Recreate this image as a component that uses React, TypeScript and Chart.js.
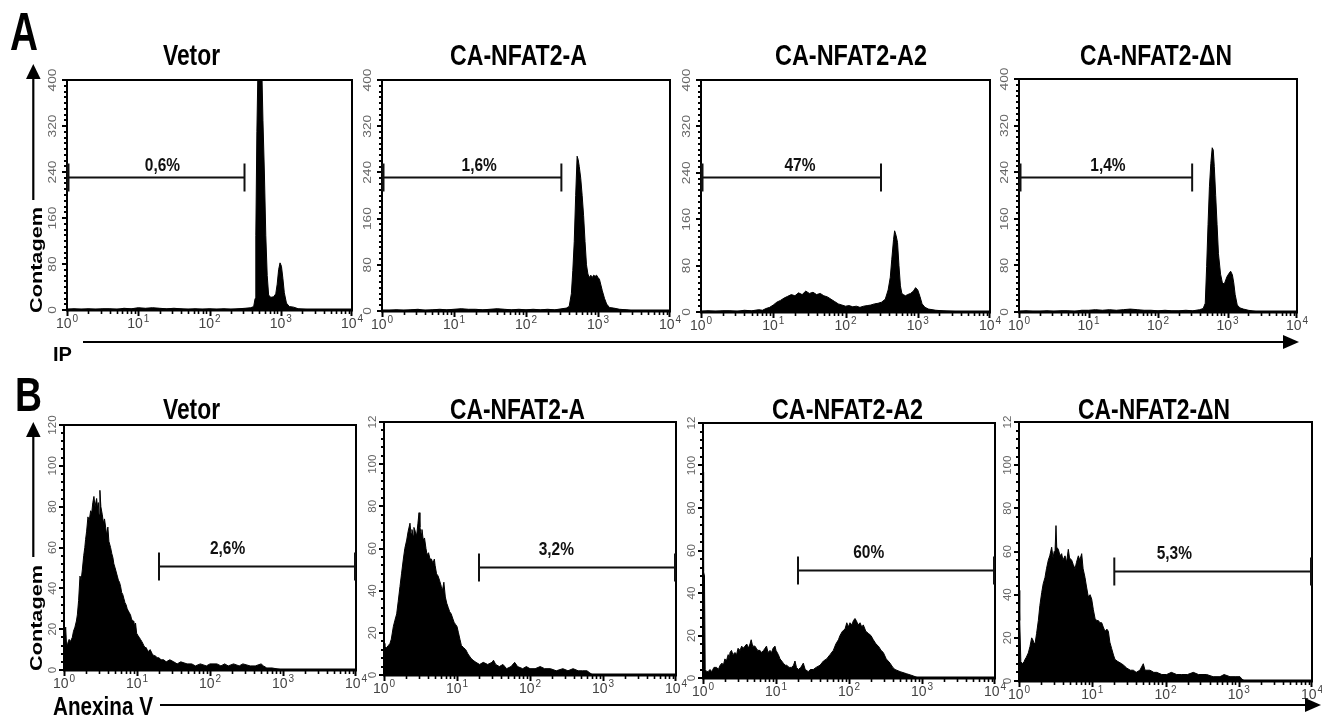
import React, { useEffect, useRef } from 'react';
import { Chart, registerables } from 'chart.js';

Chart.register(...registerables);

// ---------------- DATA ----------------
// Histogram points: [log10(fluorescence intensity), cell count]
const IP_VETOR: [number, number][] = [
  [0, 1], [0.1, 2], [0.2, 1], [0.3, 2], [0.4, 1], [0.5, 2], [0.6, 2], [0.7, 1], [0.8, 3], [0.9, 2],
  [1.0, 4], [1.1, 3], [1.2, 4], [1.3, 3], [1.4, 2], [1.5, 3], [1.6, 2], [1.7, 1], [1.8, 2], [1.9, 1],
  [2.0, 2], [2.1, 1], [2.2, 2], [2.3, 1], [2.4, 2], [2.5, 3], [2.58, 4], [2.62, 6], [2.64, 20],
  [2.65, 130], [2.665, 310], [2.68, 420], [2.7, 440], [2.72, 430], [2.735, 415], [2.75, 330],
  [2.77, 240], [2.79, 130], [2.81, 60], [2.83, 26], [2.86, 22], [2.9, 23], [2.93, 28], [2.95, 45],
  [2.97, 70], [2.99, 82], [3.01, 76], [3.03, 55], [3.05, 30], [3.08, 12], [3.12, 6], [3.18, 5],
  [3.25, 2], [3.35, 1], [3.5, 0], [4, 0],
];
const IP_A: [number, number][] = [
  [0, 1], [0.1, 1], [0.2, 2], [0.3, 1], [0.4, 2], [0.5, 3], [0.6, 1], [0.7, 2], [0.8, 3], [0.9, 2],
  [1.0, 3], [1.1, 4], [1.2, 3], [1.3, 3], [1.4, 2], [1.5, 3], [1.6, 4], [1.7, 3], [1.8, 2], [1.9, 3],
  [2.0, 2], [2.1, 3], [2.2, 2], [2.3, 3], [2.4, 2], [2.5, 4], [2.56, 5], [2.6, 8], [2.63, 30],
  [2.65, 70], [2.67, 120], [2.69, 200], [2.71, 268], [2.725, 262], [2.74, 250], [2.76, 230],
  [2.78, 200], [2.8, 165], [2.82, 120], [2.84, 80], [2.86, 64], [2.88, 58], [2.9, 62], [2.92, 58],
  [2.94, 62], [2.96, 60], [2.98, 62], [3.0, 58], [3.02, 55], [3.04, 45], [3.06, 35], [3.09, 22],
  [3.12, 12], [3.16, 6], [3.22, 5], [3.3, 3], [3.4, 2], [3.5, 0], [4, 0],
];
const IP_A2: [number, number][] = [
  [0, 1], [0.1, 2], [0.2, 1], [0.3, 2], [0.4, 2], [0.5, 1], [0.6, 3], [0.7, 2], [0.8, 4], [0.85, 3],
  [0.9, 6], [0.95, 8], [1.0, 12], [1.05, 17], [1.1, 20], [1.15, 24], [1.2, 27], [1.25, 30], [1.3, 28],
  [1.35, 33], [1.4, 30], [1.45, 36], [1.5, 32], [1.55, 34], [1.6, 30], [1.65, 32], [1.7, 28],
  [1.75, 26], [1.8, 22], [1.85, 18], [1.9, 14], [1.95, 12], [2.0, 10], [2.05, 11], [2.1, 9],
  [2.15, 10], [2.2, 8], [2.25, 10], [2.3, 11], [2.35, 12], [2.4, 14], [2.45, 15], [2.5, 17],
  [2.55, 22], [2.59, 38], [2.62, 60], [2.64, 90], [2.665, 125], [2.68, 140], [2.7, 132], [2.72, 120],
  [2.74, 80], [2.76, 45], [2.78, 32], [2.8, 30], [2.83, 28], [2.86, 30], [2.9, 32], [2.94, 36],
  [2.97, 42], [3.0, 38], [3.03, 27], [3.06, 14], [3.1, 8], [3.15, 5], [3.25, 3], [3.35, 2],
  [3.5, 1], [3.6, 0], [4, 0],
];
const IP_DN: [number, number][] = [
  [0, 1], [0.1, 2], [0.2, 1], [0.3, 1], [0.4, 2], [0.5, 1], [0.6, 2], [0.7, 2], [0.8, 1], [0.9, 3],
  [1.0, 3], [1.1, 4], [1.2, 3], [1.3, 4], [1.4, 3], [1.5, 4], [1.6, 5], [1.7, 4], [1.8, 3], [1.9, 3],
  [2.0, 2], [2.1, 3], [2.2, 2], [2.3, 2], [2.4, 3], [2.5, 2], [2.6, 4], [2.65, 6], [2.68, 15],
  [2.7, 78], [2.72, 150], [2.74, 215], [2.76, 255], [2.78, 282], [2.795, 278], [2.81, 250],
  [2.83, 200], [2.85, 150], [2.87, 100], [2.9, 65], [2.93, 48], [2.96, 50], [2.99, 60], [3.02, 66],
  [3.045, 70], [3.07, 64], [3.09, 50], [3.11, 30], [3.14, 12], [3.18, 7], [3.23, 5], [3.3, 3],
  [3.4, 1], [3.5, 0], [4, 0],
];

const ANX_VETOR: [number, number][] = [
  [0, 13], [0.01, 16], [0.023, 21], [0.035, 12], [0.05, 13], [0.07, 15], [0.09, 14], [0.114, 16],
  [0.13, 19], [0.15, 21], [0.17, 24], [0.183, 27], [0.2, 34], [0.219, 46], [0.235, 44], [0.251, 49],
  [0.27, 56], [0.285, 60], [0.296, 64], [0.31, 68], [0.328, 75], [0.345, 73], [0.365, 78], [0.38, 77],
  [0.395, 82], [0.41, 85], [0.425, 80], [0.447, 84], [0.46, 79], [0.47, 82], [0.48, 76], [0.492, 88],
  [0.505, 80], [0.525, 76], [0.54, 72], [0.555, 74], [0.57, 70], [0.585, 66], [0.601, 70], [0.615, 63],
  [0.638, 60], [0.655, 57], [0.67, 55], [0.683, 52], [0.7, 50], [0.715, 48], [0.73, 46], [0.745, 44],
  [0.76, 43], [0.775, 41], [0.79, 38], [0.805, 37], [0.82, 35], [0.835, 33], [0.85, 32], [0.866, 30],
  [0.88, 29], [0.895, 28], [0.911, 27], [0.925, 25], [0.94, 24], [0.956, 24], [0.97, 21], [0.98, 23],
  [0.995, 18], [1.011, 17], [1.03, 16], [1.048, 15], [1.065, 14], [1.08, 13], [1.093, 12], [1.11, 11],
  [1.125, 11], [1.139, 10], [1.16, 9], [1.18, 10], [1.208, 8], [1.23, 7], [1.25, 7], [1.276, 6],
  [1.3, 6], [1.33, 5], [1.366, 5], [1.4, 4], [1.45, 5], [1.503, 4], [1.55, 3], [1.6, 4], [1.686, 3],
  [1.75, 3], [1.8, 2], [1.867, 3], [1.95, 2], [2.0, 3], [2.095, 3], [2.15, 2], [2.2, 3], [2.25, 2],
  [2.322, 3], [2.4, 2], [2.45, 3], [2.55, 2], [2.62, 2], [2.7, 3], [2.732, 2], [2.778, 1], [2.85, 1],
  [3.0, 0], [4, 0],
];
const ANX_A: [number, number][] = [
  [0, 15], [0.012, 13], [0.036, 13], [0.06, 14], [0.082, 15], [0.1, 17], [0.128, 23], [0.15, 26],
  [0.174, 29], [0.195, 35], [0.219, 42], [0.24, 48], [0.265, 55], [0.285, 60], [0.311, 64], [0.33, 68],
  [0.356, 72], [0.37, 67], [0.383, 69], [0.4, 66], [0.41, 70], [0.43, 68], [0.447, 66], [0.465, 72],
  [0.48, 77], [0.492, 70], [0.51, 67], [0.52, 69], [0.538, 64], [0.555, 65], [0.575, 60], [0.59, 57],
  [0.61, 58], [0.63, 55], [0.65, 55], [0.67, 53], [0.69, 55], [0.7, 52], [0.72, 48], [0.74, 47],
  [0.76, 45], [0.785, 42], [0.8, 40], [0.82, 44], [0.84, 37], [0.86, 34], [0.88, 32], [0.9, 30],
  [0.92, 29], [0.94, 27], [0.96, 25], [0.98, 24], [1.0, 23], [1.02, 20], [1.04, 17], [1.06, 14],
  [1.09, 13], [1.12, 12], [1.15, 10], [1.19, 8], [1.22, 7], [1.26, 6], [1.31, 5], [1.36, 6], [1.42, 5],
  [1.48, 6], [1.5, 7], [1.53, 5], [1.58, 4], [1.63, 5], [1.68, 3], [1.74, 4], [1.79, 6], [1.83, 4],
  [1.9, 3], [1.95, 4], [2.0, 3], [2.07, 3], [2.14, 4], [2.2, 3], [2.28, 3], [2.36, 2], [2.45, 3],
  [2.52, 2], [2.59, 3], [2.66, 2], [2.72, 2], [2.78, 2], [2.82, 1], [2.86, 0], [4, 0],
];
const ANX_A2: [number, number][] = [
  [0, 97], [0.008, 50], [0.02, 48], [0.03, 4], [0.05, 3], [0.07, 3], [0.096, 4], [0.12, 3], [0.15, 5],
  [0.187, 5], [0.21, 4], [0.235, 6], [0.26, 7], [0.279, 6], [0.3, 9], [0.32, 8], [0.345, 11], [0.36, 9],
  [0.37, 12], [0.39, 13], [0.41, 11], [0.438, 12], [0.46, 11], [0.48, 14], [0.507, 13], [0.53, 15],
  [0.55, 14], [0.575, 15], [0.6, 16], [0.62, 14], [0.644, 16], [0.66, 18], [0.68, 15], [0.712, 15],
  [0.73, 14], [0.75, 13], [0.781, 13], [0.8, 12], [0.83, 13], [0.849, 14], [0.87, 15], [0.89, 12],
  [0.918, 13], [0.94, 12], [0.96, 14], [0.986, 15], [1.0, 13], [1.032, 11], [1.055, 9], [1.078, 8],
  [1.1, 7], [1.125, 6], [1.146, 6], [1.18, 5], [1.215, 5], [1.24, 6], [1.26, 8], [1.28, 5], [1.306, 4],
  [1.34, 5], [1.374, 7], [1.4, 4], [1.443, 3], [1.47, 4], [1.511, 4], [1.55, 5], [1.603, 6], [1.65, 8],
  [1.694, 9], [1.74, 11], [1.785, 13], [1.82, 16], [1.855, 18], [1.877, 20], [1.91, 22], [1.945, 23],
  [1.97, 26], [1.99, 24], [2.014, 26], [2.04, 25], [2.06, 27], [2.082, 28], [2.1, 27], [2.125, 25],
  [2.151, 26], [2.175, 24], [2.196, 25], [2.23, 22], [2.265, 21], [2.3, 20], [2.333, 18], [2.37, 16],
  [2.402, 15], [2.44, 13], [2.47, 12], [2.51, 9], [2.562, 7], [2.6, 5], [2.63, 4], [2.7, 3], [2.79, 2],
  [2.88, 1], [2.95, 0], [4, 0],
];
const ANX_DN: [number, number][] = [
  [0, 42], [0.01, 28], [0.025, 9], [0.05, 8], [0.07, 9], [0.082, 10], [0.1, 11], [0.127, 13],
  [0.15, 16], [0.173, 20], [0.19, 19], [0.2, 18], [0.218, 17], [0.24, 22], [0.264, 28], [0.285, 35],
  [0.31, 41], [0.33, 45], [0.355, 48], [0.375, 52], [0.4, 56], [0.42, 58], [0.446, 62], [0.465, 57],
  [0.48, 60], [0.491, 59], [0.505, 72], [0.515, 62], [0.537, 61], [0.56, 58], [0.582, 59], [0.6, 56],
  [0.628, 58], [0.65, 55], [0.673, 61], [0.69, 57], [0.719, 56], [0.74, 54], [0.765, 52], [0.785, 55],
  [0.81, 58], [0.83, 56], [0.856, 59], [0.875, 52], [0.901, 48], [0.92, 44], [0.946, 39], [0.97, 40],
  [0.992, 38], [1.015, 33], [1.038, 29], [1.06, 28], [1.083, 28], [1.105, 27], [1.129, 27], [1.15, 25],
  [1.174, 23], [1.2, 24], [1.22, 23], [1.24, 18], [1.265, 15], [1.29, 12], [1.31, 10], [1.35, 9],
  [1.402, 8], [1.44, 7], [1.47, 6], [1.52, 5], [1.561, 5], [1.6, 4], [1.65, 5], [1.697, 8], [1.72, 5],
  [1.788, 5], [1.84, 4], [1.88, 4], [1.95, 3], [2.016, 3], [2.08, 4], [2.153, 3], [2.22, 3], [2.3, 3],
  [2.38, 4], [2.45, 3], [2.562, 3], [2.65, 2], [2.744, 2], [2.8, 3], [2.88, 2], [2.95, 2], [3.017, 2],
  [3.04, 1], [3.08, 0], [4, 0],
];

const TITLES = ['Vetor', 'CA-NFAT2-A', 'CA-NFAT2-A2', 'CA-NFAT2-\u0394N'];
const IP_SERIES = [IP_VETOR, IP_A, IP_A2, IP_DN];
const ANX_SERIES = [ANX_VETOR, ANX_A, ANX_A2, ANX_DN];

const X_DECADES = [0, 1, 2, 3, 4];
const X_EXPONENT_LABELS = ['0', '1', '2', '3', '4'];

const IP_Y_TICKS = [0, 80, 160, 240, 320, 400];
const IP_Y_LABELS = ['0', '80', '160', '240', '320', '400'];
const ANX_Y_TICKS = [0, 20, 40, 60, 80, 100, 120];
const ANX_Y_LABELS_FULL = ['0', '20', '40', '60', '80', '100', '120'];
const ANX_Y_LABELS_CUT = ['0', '20', '40', '60', '80', '100', '12'];

const IP_GATE_PCT = ['0,6%', '1,6%', '47%', '1,4%'];
const ANX_GATE_PCT = ['2,6%', '3,2%', '60%', '5,3%'];
const IP_GATE_RANGE = [1, 310];
const IP_GATE_LEVEL = 232;
const ANX_GATE_RANGE = [20, 10000];
const ANX_GATE_LEVEL = 51;

const ROW_A_AXIS = 'Contagem';
const ROW_A_XLABEL = 'IP';
const ROW_B_XLABEL = 'Anexina V';

// ---------------- LAYOUT ----------------
type Box = { L: number; T: number; R: number; B: number };
const PAD = { left: 30, top: 16, right: 14, bottom: 24 };

const ROW_A_BOXES: Box[] = [
  { L: 67, T: 80, R: 352, B: 310 },
  { L: 382, T: 80, R: 670, B: 311 },
  { L: 701, T: 80, R: 990, B: 312 },
  { L: 1019, T: 79, R: 1297, B: 312 },
];
const ROW_B_BOXES: Box[] = [
  { L: 64, T: 425, R: 356, B: 670 },
  { L: 384, T: 422, R: 676, B: 675 },
  { L: 703, T: 423, R: 995, B: 678 },
  { L: 1019, T: 422, R: 1312, B: 681 },
];
// label anchor (decade) for gate percentages
const IP_LABEL_DEC = [1.34, 1.35, 1.37, 1.28];
const ANX_LABEL_DEC = [2.24, 2.36, 2.27, 2.12];

const TITLE_POS_A = [
  { x: 163, len: 57 }, { x: 450, len: 137 }, { x: 775, len: 152 }, { x: 1080, len: 152 },
];
const TITLE_POS_B = [
  { x: 163, len: 57 }, { x: 450, len: 135 }, { x: 772, len: 151 }, { x: 1078, len: 152 },
];

type PanelCfg = {
  box: Box;
  series: [number, number][];
  yMax: number;
  yTicks: number[];
  yLabels: string[];
  yMinor: number;
  yLabelOffset: number;
  yStretch: number;
  gateRange: number[];
  gateLevel: number;
  gateLeftAtAxis: boolean;
  gateLabel: string;
  gateLabelDec: number;
  gateLabelLift: number;
};

const FONT = '"Liberation Sans", Arial, sans-serif';

function makeDecor(cfg: PanelCfg) {
  return {
    id: 'panelDecor',
    afterDatasetsDraw(chart: any) {
      const { ctx, chartArea: a, scales } = chart;
      const x = scales.x;
      const y = scales.y;
      ctx.save();
      ctx.strokeStyle = '#000';
      ctx.lineCap = 'butt';

      // y ticks (outside, left)
      ctx.lineWidth = 2;
      const nMinor = Math.round(cfg.yMax / cfg.yMinor);
      for (let i = 0; i <= nMinor; i++) {
        const v = i * cfg.yMinor;
        const py = Math.round(y.getPixelForValue(v));
        const isMajor = cfg.yTicks.some((t) => Math.abs(t - v) < 1e-6);
        const len = isMajor ? 5 : 3;
        ctx.beginPath();
        ctx.moveTo(a.left - len, py);
        ctx.lineTo(a.left, py);
        ctx.stroke();
      }
      // x ticks (log minor + decade major)
      for (let d = 0; d < 4; d++) {
        for (let k = 1; k <= 9; k++) {
          const val = k * Math.pow(10, d);
          const px = Math.round(x.getPixelForValue(val)) + 0.5;
          const len = k === 1 ? 6 : 4;
          ctx.lineWidth = k === 1 ? 2 : 1.6;
          ctx.beginPath();
          ctx.moveTo(px, a.bottom);
          ctx.lineTo(px, a.bottom + len);
          ctx.stroke();
        }
      }
      {
        const px = Math.round(x.getPixelForValue(10000)) - 0.5;
        ctx.lineWidth = 2;
        ctx.beginPath();
        ctx.moveTo(px, a.bottom);
        ctx.lineTo(px, a.bottom + 6);
        ctx.stroke();
      }

      // frame
      ctx.lineWidth = 2;
      ctx.strokeRect(a.left, a.top, a.right - a.left, a.bottom - a.top);
      ctx.lineWidth = 3;
      ctx.beginPath();
      ctx.moveTo(a.left - 1, a.bottom);
      ctx.lineTo(a.right + 1, a.bottom);
      ctx.stroke();

      // y labels (rotated)
      ctx.fillStyle = '#666';
      ctx.font = `11px ${FONT}`;
      ctx.textAlign = 'center';
      ctx.textBaseline = 'middle';
      cfg.yTicks.forEach((t, i) => {
        const py = y.getPixelForValue(t);
        ctx.save();
        ctx.translate(a.left - cfg.yLabelOffset, py);
        ctx.rotate(-Math.PI / 2);
        ctx.scale(cfg.yStretch, 1);
        ctx.fillText(cfg.yLabels[i], 0, 0);
        ctx.restore();
      });

      // x labels 10^n
      ctx.fillStyle = '#444';
      ctx.textAlign = 'left';
      ctx.textBaseline = 'alphabetic';
      X_DECADES.forEach((d, i) => {
        const px = x.getPixelForValue(Math.pow(10, d));
        ctx.font = `14px ${FONT}`;
        const w10 = ctx.measureText('10').width;
        ctx.font = `10px ${FONT}`;
        const we = ctx.measureText(X_EXPONENT_LABELS[i]).width;
        const total = w10 + 1 + we;
        const sx = px - total / 2;
        const base = a.bottom + 18;
        ctx.font = `14px ${FONT}`;
        ctx.fillText('10', sx, base);
        ctx.font = `10px ${FONT}`;
        ctx.fillText(X_EXPONENT_LABELS[i], sx + w10 + 1, base - 6);
      });

      // gate marker
      const gy = Math.round(y.getPixelForValue(cfg.gateLevel)) + 0.5;
      const gx1 = x.getPixelForValue(cfg.gateRange[0]);
      const gx2 = x.getPixelForValue(cfg.gateRange[1]);
      ctx.strokeStyle = '#111';
      ctx.lineWidth = 2;
      ctx.beginPath();
      ctx.moveTo(gx1, gy);
      ctx.lineTo(gx2, gy);
      ctx.stroke();
      ctx.lineWidth = cfg.gateLeftAtAxis ? 3 : 2;
      ctx.beginPath();
      ctx.moveTo(gx1 + (cfg.gateLeftAtAxis ? 1 : 0), gy - 14);
      ctx.lineTo(gx1 + (cfg.gateLeftAtAxis ? 1 : 0), gy + 14);
      ctx.stroke();
      ctx.lineWidth = 2;
      ctx.beginPath();
      ctx.moveTo(gx2 - (cfg.gateLeftAtAxis ? 0 : 1), gy - 14);
      ctx.lineTo(gx2 - (cfg.gateLeftAtAxis ? 0 : 1), gy + 14);
      ctx.stroke();

      // gate label
      const lx = x.getPixelForValue(Math.pow(10, cfg.gateLabelDec));
      ctx.fillStyle = '#111';
      ctx.font = `bold 18px ${FONT}`;
      ctx.textAlign = 'center';
      ctx.textBaseline = 'alphabetic';
      ctx.save();
      ctx.translate(lx, gy - cfg.gateLabelLift);
      ctx.scale(0.86, 1);
      ctx.fillText(cfg.gateLabel, 0, 0);
      ctx.restore();

      ctx.restore();
    },
  };
}

function Panel({ cfg }: { cfg: PanelCfg }) {
  const ref = useRef<HTMLCanvasElement>(null);
  const w = cfg.box.R - cfg.box.L + PAD.left + PAD.right;
  const h = cfg.box.B - cfg.box.T + PAD.top + PAD.bottom;
  useEffect(() => {
    const canvas = ref.current;
    if (!canvas) return;
    const chart = new Chart(canvas, {
      type: 'line',
      data: {
        datasets: [
          {
            data: cfg.series.map(([d, c]) => ({ x: Math.pow(10, d), y: c })),
            fill: 'origin',
            backgroundColor: '#000',
            borderColor: '#000',
            borderWidth: 1,
            pointRadius: 0,
            tension: 0,
          },
        ],
      },
      options: {
        responsive: false,
        maintainAspectRatio: false,
        animation: false,
        events: [],
        layout: { padding: PAD },
        scales: {
          x: { type: 'logarithmic', min: 1, max: 10000, display: false },
          y: { type: 'linear', min: 0, max: cfg.yMax, display: false },
        },
        plugins: {
          legend: { display: false },
          tooltip: { enabled: false },
          title: { display: false },
        },
      },
      plugins: [makeDecor(cfg)],
    } as any);
    return () => chart.destroy();
  }, [cfg]);
  return (
    <canvas
      ref={ref}
      width={w}
      height={h}
      style={{
        position: 'absolute',
        left: cfg.box.L - PAD.left,
        top: cfg.box.T - PAD.top,
        width: w,
        height: h,
      }}
    />
  );
}

const PANELS: PanelCfg[] = [
  ...ROW_A_BOXES.map((box, i) => ({
    box,
    series: IP_SERIES[i],
    yMax: 400,
    yTicks: IP_Y_TICKS,
    yLabels: IP_Y_LABELS,
    yMinor: 10,
    yLabelOffset: 14,
    yStretch: 1.25,
    gateRange: IP_GATE_RANGE,
    gateLevel: IP_GATE_LEVEL,
    gateLeftAtAxis: true,
    gateLabel: IP_GATE_PCT[i],
    gateLabelDec: IP_LABEL_DEC[i],
    gateLabelLift: 7,
  })),
  ...ROW_B_BOXES.map((box, i) => ({
    box,
    series: ANX_SERIES[i],
    yMax: 120,
    yTicks: ANX_Y_TICKS,
    yLabels: i === 0 ? ANX_Y_LABELS_FULL : ANX_Y_LABELS_CUT,
    yMinor: 4,
    yLabelOffset: 11,
    yStretch: 1.05,
    gateRange: ANX_GATE_RANGE,
    gateLevel: ANX_GATE_LEVEL,
    gateLeftAtAxis: false,
    gateLabel: ANX_GATE_PCT[i],
    gateLabelDec: ANX_LABEL_DEC[i],
    gateLabelLift: 13,
  })),
];

export default function App() {
  const textStyle: React.CSSProperties = { fontFamily: FONT, fontWeight: 'bold' };
  return (
    <div
      style={{
        position: 'fixed',
        left: 0,
        top: 0,
        width: 1322,
        height: 719,
        background: '#fff',
        overflow: 'hidden',
      }}
    >
      {PANELS.map((cfg, i) => (
        <Panel key={i} cfg={cfg} />
      ))}
      <svg
        width={1322}
        height={719}
        style={{ position: 'absolute', left: 0, top: 0, pointerEvents: 'none' }}
      >
        <g style={textStyle} fill="#000">
          <text x={10} y={50} fontSize={54} textLength={28} lengthAdjust="spacingAndGlyphs">A</text>
          <text x={15} y={411} fontSize={48} textLength={27} lengthAdjust="spacingAndGlyphs">B</text>
          {TITLES.map((t, i) => (
            <text key={'ta' + i} x={TITLE_POS_A[i].x} y={65} fontSize={29}
              textLength={TITLE_POS_A[i].len} lengthAdjust="spacingAndGlyphs">{t}</text>
          ))}
          {TITLES.map((t, i) => (
            <text key={'tb' + i} x={TITLE_POS_B[i].x} y={419} fontSize={29}
              textLength={TITLE_POS_B[i].len} lengthAdjust="spacingAndGlyphs">{t}</text>
          ))}
          <text transform="translate(41.5,260) rotate(-90)" textAnchor="middle" fontSize={17}
            textLength={106} lengthAdjust="spacingAndGlyphs">{ROW_A_AXIS}</text>
          <text transform="translate(41.5,618) rotate(-90)" textAnchor="middle" fontSize={17}
            textLength={106} lengthAdjust="spacingAndGlyphs">{ROW_A_AXIS}</text>
          <text x={53} y={361} fontSize={20} textLength={19} lengthAdjust="spacingAndGlyphs">{ROW_A_XLABEL}</text>
          <text x={53} y={715} fontSize={25} textLength={100} lengthAdjust="spacingAndGlyphs">{ROW_B_XLABEL}</text>
        </g>
        {/* vertical arrows */}
        <line x1={33.3} y1={78} x2={33.3} y2={200} stroke="#000" strokeWidth={2.2} />
        <polygon points="26,79 40.6,79 33.3,64" fill="#000" />
        <line x1={33.3} y1={436} x2={33.3} y2={557} stroke="#000" strokeWidth={2.2} />
        <polygon points="26,437 40.6,437 33.3,422" fill="#000" />
        {/* horizontal arrows */}
        <line x1={83} y1={342} x2={1284} y2={342} stroke="#000" strokeWidth={2} />
        <polygon points="1283,335 1283,349 1299,342" fill="#000" />
        <line x1={160} y1={705} x2={1306} y2={705} stroke="#000" strokeWidth={2} />
        <polygon points="1305,698 1305,712 1321,705" fill="#000" />
      </svg>
    </div>
  );
}
